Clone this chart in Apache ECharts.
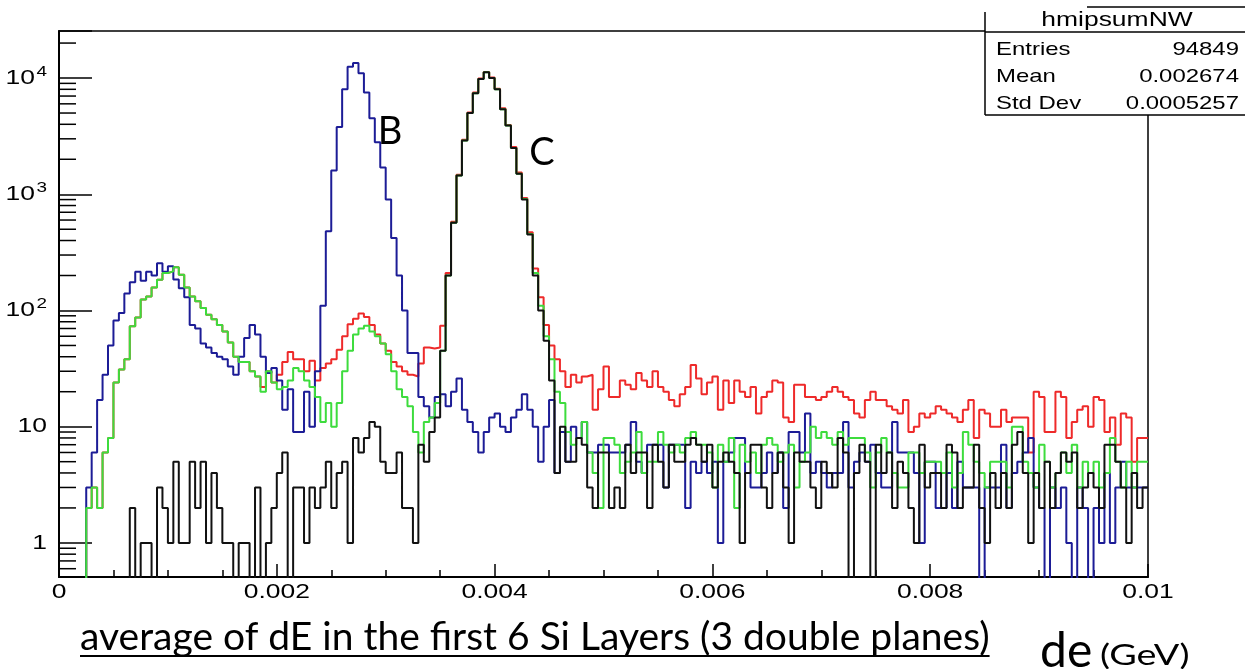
<!DOCTYPE html>
<html><head><meta charset="utf-8">
<script src="https://cdn.jsdelivr.net/npm/echarts@6/dist/echarts.min.js"></script>
<style>html,body{margin:0;padding:0;background:#fff}#c{width:1245px;height:669px}</style>
</head><body><div id="c"></div>
<script>
// ---- histogram definition (200 bins from 0 to 0.01 GeV) ----
const xRange = [0, 0.01];
const yRange = [0.509, 25400];
const nBins = 200;
const xTickValues = [0, 0.002, 0.004, 0.006, 0.008, 0.01];
const xTickLabels = ['0', '0.002', '0.004', '0.006', '0.008', '0.01'];
const yTickValues = [1, 10, 100, 1000, 10000];
const yTickLabels = [['1', ''], ['10', ''], ['10', '2'], ['10', '3'], ['10', '4']];

const blueCounts = [
0,0,0,0,0, 3,6,17,28,50, 82,95,140,175,215, 180,215,200,255,215,
240,185,155,130,75, 70,52,48,43,40, 38,33,28,40,58, 75,62,40,29,32,
25,14,21,9,9, 20,10,30,110,480, 1600,3800,8000,12500,13500, 11000,7500,4500,2800,1700,
900,420,200,100,43, 43,18,15,12,18, 19,15,20,26,14, 11,9,6,9,12,
13,10,9,12,14, 19,14,10,5,10, 17,4,9,5,10, 8,11,6,6,7,
7,6,6,6,7, 11,5,4,7,7, 7,3,7,7,7, 2,5,4,5,4,
5,1,5,6,8, 8,4,3,3,4, 6,4,6,2,9, 9,6,13,4,5,
4,3,4,4,11, 3,5,6,5,7, 4,3,3,11,6, 6,6,4,1,5,
5,2,2,4,2, 5,3,3,3,0, 3,3,3,7,2, 4,5,6,8,3,
2,0,3,2,3, 1,0,3,2,0, 2,1,4,1,3, 5,3,3,3,3
];
const redCounts = [
0,0,0,0,0, 2,3,2,6,8, 24,31,38,73,87, 124,132,158,184,210,
217,235,203,158,132, 120,105,92,84,75, 66,53,40,36,36, 30,27,22,30,24,
28,36,44,38,38, 30,37,25,32,35, 38,46,60,76,85, 94,88,75,62,52,
45,36,33,30,28, 27,35,48,47,48, 74,210,580,1470,2950, 5050,7500,9900,11300,10100,
8100,5500,3950,2550,1540, 930,470,230,130,75, 50,38,30,22,28, 24,27,28,14,21,
33,18,18,25,23, 21,29,25,22,30, 22,20,17,15,19, 22,34,26,19,24,
27,14,25,16,25, 20,18,22,13,18, 20,25,24,12,11, 23,23,18,18,17,
18,20,22,20,18, 17,13,12,17,20, 17,17,15,14,13, 17,9,10,13,12,
13,15,14,13,12, 11,14,17,8,14, 13,10,10,14,11, 12,12,12,6,20,
18,9,9,20,18, 8,11,14,15,10, 18,17,9,12,7, 13,12,5,8,8
];
const greenCounts = [
0,0,0,0,0, 2,3,2,6,8, 24,31,38,73,87, 124,132,158,184,210,
217,235,203,158,132, 120,105,92,84,75, 66,53,40,36,36, 30,27,20,30,24,
21,22,25,32,30, 25,22,18,11,16, 10,16,30,45,62, 70,74,66,60,52,
42,30,21,18,15, 9,6,11,12,16, 45,200,570,1450,2900, 5000,7400,9800,11200,10000,
8000,5400,3900,2500,1500, 910,455,210,110,60, 38,20,16,9,7, 8,11,6,4,2,
8,8,7,4,5, 6,9,4,5,5, 9,7,6,7,6, 8,9,7,7,6,
3,7,5,8,2, 7,5,6,4,7, 8,7,5,6,7, 3,5,6,10,8,
9,8,7,9,7, 8,8,8,6,3, 6,8,6,4,3, 3,6,6,4,5,
5,5,4,6,3, 4,9,7,5,4, 3,5,5,5,3, 10,10,5,4,3,
7,5,3,4,6, 4,7,3,5,4, 5,3,4,8,5, 3,5,3,5,5
];
const blackCounts = [
0,0,0,0,0, 0,0,0,0,0, 0,0,0,2,0, 1,1,0,3,2,
1,5,1,1,5, 2,5,1,4,2, 1,1,0,1,1, 0,3,0,1,2,
4,6,0,3,3, 1,3,2,3,5, 2,4,5,1,8, 6,8,11,10,5,
4,4,6,2,2, 1,7,5,9,12, 45,200,570,1450,2900, 5000,7400,9800,11200,10000,
8000,5400,3900,2500,1500, 900,450,200,100,55, 25,4,10,5,5, 8,7,3,2,6,
6,2,3,2,7, 4,6,6,2,7, 5,3,7,5,5, 7,8,7,5,7,
3,5,6,5,4, 1,4,7,7,3, 2,4,6,3,1, 6,5,5,3,2,
5,4,3,8,6, 0,4,7,5,0, 7,4,6,2,5, 4,2,1,7,3,
4,4,2,7,6, 2,3,3,7,2, 1,4,2,4,2, 7,9,4,1,4,
2,5,2,4,6, 5,6,2,3,4, 3,2,7,7,5, 3,1,4,2,3
];

const statsName = 'hmipsumNW';
const statsRows = [['Entries', '94849'], ['Mean', '0.002674'], ['Std Dev', '0.0005257']];
const titleText = 'average of dE in the first 6 Si Layers (3 double planes)';

// ---- drawing helpers ----
const binWidth = (xRange[1] - xRange[0]) / nBins;
const FLOOR = 0.05; // empty bins are drawn below the axis minimum (clipped away), as in ROOT
function steps(counts) {
  const pts = counts.map((c, i) => [xRange[0] + i * binWidth, c > 0 ? c : FLOOR]);
  const last = counts[counts.length - 1];
  pts.push([xRange[1], last > 0 ? last : FLOOR]);
  return pts;
}
const minorY = [];
for (let e = -1; e <= 4; e++) for (let m = 2; m <= 9; m++) {
  const v = m * Math.pow(10, e);
  if (v > yRange[0] && v < yRange[1]) minorY.push([0, v]);
}

const chart = echarts.init(document.getElementById('c'), null, {renderer: 'canvas'});
const NUM = '"Liberation Sans"';
const SX = 1.26; // horizontal stretch of the original picture's ROOT text

function lineSeries(name, counts, color, z) {
  return {
    name, type: 'line', data: steps(counts), step: 'end', showSymbol: false, symbol: 'none',
    clip: true, z, lineStyle: {color, width: 2}, emphasis: {disabled: true}, animation: false
  };
}

chart.setOption({
  animation: false,
  backgroundColor: '#fff',
  grid: {left: 59, right: 97, top: 31, bottom: 92, show: true, borderColor: '#000', borderWidth: 1.5, backgroundColor: 'transparent'},
  xAxis: {
    type: 'value', min: xRange[0], max: xRange[1], interval: 0.002,
    axisLine: {show: true, onZero: false, lineStyle: {color: '#000', width: 2}},
    axisTick: {show: true, inside: true, length: 13, lineStyle: {color: '#000', width: 1.5}},
    minorTick: {show: true, splitNumber: 4, length: 7, lineStyle: {color: '#000', width: 1.5}},
    splitLine: {show: false},
    axisLabel: {show: false}
  },
  yAxis: {
    type: 'log', logBase: 10, min: yRange[0], max: yRange[1],
    axisLine: {show: true, onZero: false, lineStyle: {color: '#000', width: 2}},
    axisTick: {show: true, inside: true, length: 33, lineStyle: {color: '#000', width: 1.5}},
    splitLine: {show: false},
    axisLabel: {show: false}
  },
  series: [
    lineSeries('red', redCounts, '#ee2a2a', 2),
    lineSeries('blue', blueCounts, '#1c1c96', 3),
    lineSeries('green', greenCounts, '#3ddc3d', 4),
    lineSeries('black', blackCounts, '#111111', 5),
    {
      type: 'custom', data: minorY, z: 6, clip: false, silent: true,
      renderItem: (params, api) => {
        const p = api.coord([0, api.value(1)]);
        return {type: 'line', shape: {x1: p[0], y1: p[1], x2: p[0] + 17, y2: p[1]}, style: {stroke: '#000', lineWidth: 1.5}};
      }
    }
  ]
});

// ---- tick labels and annotations (positions from the chart's own scales) ----
const g = [];
const bottomPx = chart.convertToPixel({gridIndex: 0}, [xRange[0], yRange[0]]);
xTickValues.forEach((v, i) => {
  const p = chart.convertToPixel({gridIndex: 0}, [v, yRange[0]]);
  g.push({type: 'text', x: p[0], y: bottomPx[1] + 5, scaleX: SX, z: 50,
    style: {text: xTickLabels[i], font: '21px ' + NUM, fill: '#000', align: 'center', verticalAlign: 'top'}});
});
const cv = document.createElement('canvas').getContext('2d');
cv.font = '15px "Liberation Sans"';
yTickValues.forEach((v, i) => {
  const p = chart.convertToPixel({gridIndex: 0}, [xRange[0], v]);
  const [base, sup] = yTickLabels[i];
  const right = p[0] - 12;
  const supW = sup ? cv.measureText(sup).width * SX + 1.5 : 0;
  g.push({type: 'text', x: right - supW, y: p[1], scaleX: SX, z: 50,
    style: {text: base, font: '21px ' + NUM, fill: '#000', align: 'right', verticalAlign: 'middle'}});
  if (sup) g.push({type: 'text', x: right - supW + 1.5, y: p[1] - 6.5, scaleX: SX, z: 50,
    style: {text: sup, font: '15px ' + NUM, fill: '#000', align: 'left', verticalAlign: 'middle'}});
});

// stats box
g.push({type: 'rect', z: 100, shape: {x: 985, y: 7, width: 270, height: 108}, style: {fill: '#fff'}});
g.push({type: 'line', z: 101, shape: {x1: 985, y1: 12, x2: 985, y2: 115}, style: {stroke: '#000', lineWidth: 1.5}});
g.push({type: 'line', z: 101, shape: {x1: 1087, y1: 7, x2: 1245, y2: 7}, style: {stroke: '#000', lineWidth: 1.5}});
g.push({type: 'line', z: 101, shape: {x1: 985, y1: 32, x2: 1245, y2: 32}, style: {stroke: '#000', lineWidth: 1.5}});
g.push({type: 'line', z: 101, shape: {x1: 985, y1: 115, x2: 1245, y2: 115}, style: {stroke: '#000', lineWidth: 1.5}});
g.push({type: 'text', z: 102, x: 1117, y: 20, scaleX: SX,
  style: {text: statsName, font: '21px ' + NUM, fill: '#000', align: 'center', verticalAlign: 'middle'}});
statsRows.forEach((r, i) => {
  g.push({type: 'text', z: 102, x: 996, y: 50 + i * 27, scaleX: SX,
    style: {text: r[0], font: '19px ' + NUM, fill: '#000', align: 'left', verticalAlign: 'middle'}});
  g.push({type: 'text', z: 102, x: 1239, y: 50 + i * 27, scaleX: SX,
    style: {text: r[1], font: '19px ' + NUM, fill: '#000', align: 'right', verticalAlign: 'middle'}});
});

// peak labels, caption and unit
g.push({type: 'text', z: 102, x: 390, y: 132, style: {text: 'B', font: '38px Lato', fill: '#000', align: 'center', verticalAlign: 'middle'}});
g.push({type: 'text', z: 102, x: 542, y: 153, style: {text: 'C', font: '38px Lato', fill: '#000', align: 'center', verticalAlign: 'middle'}});
cv.font = '39px Lato';
const titleW = cv.measureText(titleText).width;
g.push({type: 'text', z: 102, x: 80, y: 637, style: {text: titleText, font: '39px Lato', fill: '#000', align: 'left', verticalAlign: 'middle'}});
g.push({type: 'line', z: 102, shape: {x1: 80, y1: 656, x2: 80 + titleW, y2: 656}, style: {stroke: '#000', lineWidth: 2}});
g.push({type: 'text', z: 102, x: 1040, y: 676, style: {text: 'de', font: '48px Lato', fill: '#000', align: 'left', verticalAlign: 'bottom'}});
g.push({type: 'text', z: 102, x: 1100, y: 670, scaleX: 1.3, style: {text: '(GeV)', font: '29px Lato', fill: '#000', align: 'left', verticalAlign: 'bottom'}});

chart.setOption({graphic: g});
</script>
</body></html>
